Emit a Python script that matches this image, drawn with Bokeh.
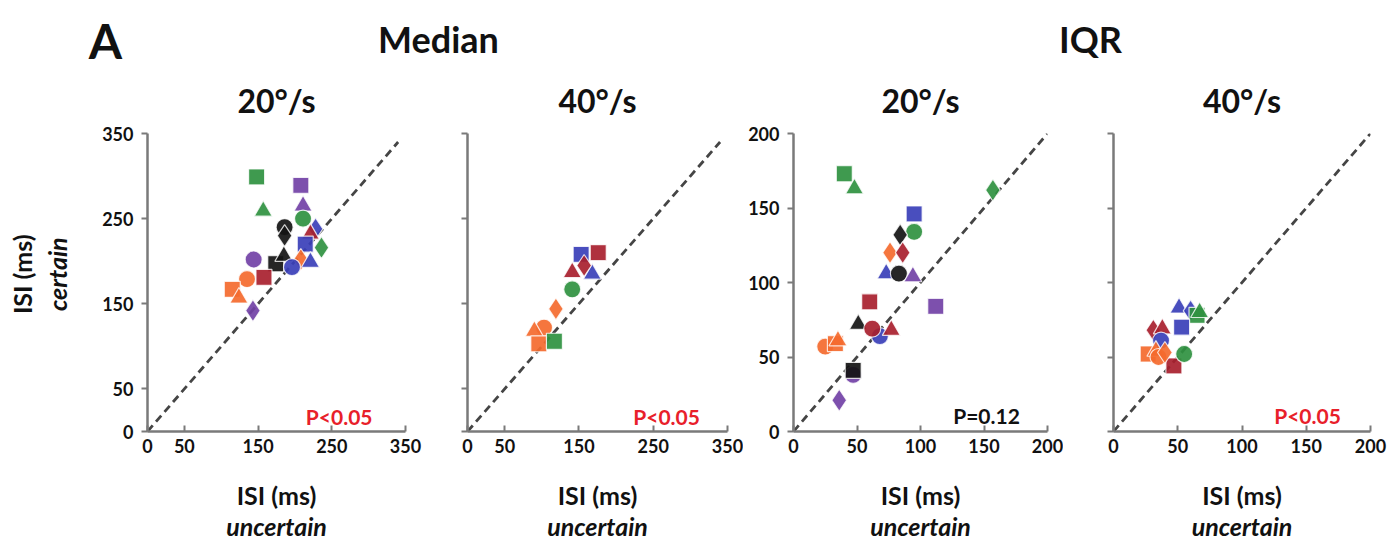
import numpy as np
from bokeh.plotting import figure
from bokeh.models import ColumnDataSource, Range1d, FixedTicker, Label
from bokeh.layouts import row, column
from bokeh.embed import file_html
from bokeh.resources import INLINE
from bokeh.core.properties import value

# ---------------- data ----------------
median_ticks = [0, 50, 150, 250, 350]
iqr_ticks = [0, 50, 100, 150, 200]
median_diag = [0, 340]
iqr_diag = [0, 200]

# Median, 20 deg/s
med20_x = [148, 208, 157, 211, 211, 186, 186, 228, 221, 214, 236, 144, 174, 185, 208, 221, 196, 135, 158, 115, 124, 143]
med20_y = [299, 289, 259, 265, 250, 240, 230, 238, 232, 220, 216, 202, 197, 206, 202, 199, 193, 179, 181, 167, 157, 142]
med20_c = ["green", "purple", "green", "purple", "green", "black", "black", "blue", "darkred", "blue", "green", "purple",
           "black", "black", "orange", "blue", "blue", "orange", "darkred", "orange", "orange", "purple"]
med20_m = ["square", "square", "triangle", "triangle", "circle", "circle", "diamond", "diamond", "triangle", "square", "diamond", "circle",
           "square", "triangle", "diamond", "triangle", "circle", "circle", "square", "square", "triangle", "diamond"]

# Median, 40 deg/s
med40_x = [153, 176, 168, 141, 157, 141, 119, 103, 90, 96, 117]
med40_y = [208, 210, 185, 187, 195, 167, 144, 122, 118, 103, 106]
med40_c = ["blue", "darkred", "blue", "darkred", "darkred", "green", "orange", "orange", "orange", "orange", "green"]
med40_m = ["square", "square", "triangle", "triangle", "diamond", "circle", "diamond", "circle", "triangle", "square", "square"]

# IQR, 20 deg/s
iqr20_x = [40, 48, 157, 95, 95, 84, 76, 86, 73, 83, 94, 112, 60, 51, 68, 62, 77, 25, 33, 35, 47, 47, 36]
iqr20_y = [173, 163, 162, 146, 134, 132, 120, 120, 106, 106, 104, 84, 87, 72, 64, 69, 68, 57, 59, 61, 38, 41, 21]
iqr20_c = ["green", "green", "green", "blue", "green", "black", "orange", "darkred", "blue", "black", "purple", "purple",
           "darkred", "black", "blue", "darkred", "darkred", "orange", "orange", "orange", "purple", "black", "purple"]
iqr20_m = ["square", "triangle", "diamond", "square", "circle", "diamond", "diamond", "diamond", "triangle", "circle", "triangle", "square",
           "square", "triangle", "circle", "circle", "triangle", "circle", "square", "triangle", "circle", "square", "diamond"]

# IQR, 40 deg/s
iqr40_x = [51, 60, 65, 67, 53, 31, 38, 37, 47, 27, 33, 35, 40, 55]
iqr40_y = [83, 81, 78, 80, 70, 68, 69, 61, 44, 52, 54, 50, 53, 52]
iqr40_c = ["blue", "blue", "green", "green", "blue", "darkred", "darkred", "blue", "darkred", "orange", "orange", "orange", "orange", "green"]
iqr40_m = ["triangle", "diamond", "square", "triangle", "square", "diamond", "triangle", "circle", "square", "square", "triangle", "circle", "diamond", "circle"]

panel_titles = ["20°/s", "40°/s", "20°/s", "40°/s"]
group_titles = ["Median", "IQR"]
p_texts = ["P<0.05", "P<0.05", "P=0.12", "P<0.05"]

# ---------------- style ----------------
FONT = "Lato"
COLORS = {"green": "#2f9140", "purple": "#7241a6", "blue": "#3a3fb8",
          "darkred": "#a8202e", "orange": "#f46a2e", "black": "#141414"}
SIZES = {"square": 16, "circle": 17, "triangle": 18, "diamond": 22}
AX = "#7a7a7a"

TOTAL_W = 1391
HEADER_H = 120
TOP, FRAME_H, BOTTOM = 13, 298, 32
ROW_H = TOP + FRAME_H + BOTTOM
FOOTER_H = 540 - HEADER_H - ROW_H
LEFT_W = 88

# (left border, frame width, right border)
geoms = [(59, 258, 23), (39, 260, 16), (50, 254, 16), (50, 257, 21)]


def make_panel(xs, ys, cs, ms, rng, ticks, geom, ylabels, diag, ptext, pcolor, ppos):
    left, fw, right = geom
    p = figure(frame_width=fw, frame_height=FRAME_H,
               x_range=Range1d(*rng), y_range=Range1d(*rng),
               min_border_left=left, min_border_right=right,
               min_border_top=TOP, min_border_bottom=BOTTOM,
               output_backend="svg", toolbar_location=None,
               background_fill_color="white", border_fill_color="white")
    p.grid.visible = False
    p.outline_line_color = None
    p.line(diag, diag, line_dash="8 5", line_width=2.8, line_color="#454545")
    src = ColumnDataSource(dict(
        x=xs, y=ys, marker=ms,
        color=[COLORS[c] for c in cs],
        size=[SIZES[m] for m in ms]))
    p.scatter("x", "y", source=src, marker="marker", size="size",
              fill_color="color", fill_alpha=0.92,
              line_color="white", line_width=1.2, line_alpha=0.8)
    for ax in (p.xaxis[0], p.yaxis[0]):
        ax.ticker = FixedTicker(ticks=ticks)
        ax.axis_line_color = AX
        ax.axis_line_width = 2.5
        ax.major_tick_line_color = AX
        ax.major_tick_line_width = 2
        ax.minor_tick_line_color = None
        ax.major_label_text_font = FONT
        ax.major_label_text_font_size = "18px"
        ax.major_label_text_font_style = "bold"
        ax.major_label_text_color = "#111111"
    p.xaxis.major_tick_in = 6
    p.xaxis.major_tick_out = 0
    p.xaxis.major_label_standoff = 7
    p.yaxis.major_tick_in = 0
    p.yaxis.major_tick_out = 6
    p.yaxis.major_label_standoff = 8
    if not ylabels:
        p.yaxis.major_label_overrides = {t: "" for t in ticks}
    p.add_layout(Label(x=ppos[0], y=ppos[1], text=ptext, text_color=pcolor,
                       text_font=FONT, text_font_size="21px", text_font_style="bold",
                       text_align="center", text_baseline="middle"))
    return p


p1 = make_panel(med20_x, med20_y, med20_c, med20_m, (0, 350), median_ticks, geoms[0], True,
                median_diag, p_texts[0], "#e8202a", (260, 18))
p2 = make_panel(med40_x, med40_y, med40_c, med40_m, (0, 350), median_ticks, geoms[1], False,
                median_diag, p_texts[1], "#e8202a", (268, 18))
p3 = make_panel(iqr20_x, iqr20_y, iqr20_c, iqr20_m, (0, 200), iqr_ticks, geoms[2], True,
                iqr_diag, p_texts[2], "#111111", (152, 11))
p4 = make_panel(iqr40_x, iqr40_y, iqr40_c, iqr40_m, (0, 200), iqr_ticks, geoms[3], False,
                iqr_diag, p_texts[3], "#e8202a", (151, 11))


def blank(w, h):
    f = figure(width=w, height=h, x_range=Range1d(0, w), y_range=Range1d(h, 0),
               x_axis_location=None, y_axis_location=None, min_border=0,
               output_backend="svg", toolbar_location=None,
               background_fill_color="white", border_fill_color="white")
    f.grid.visible = False
    f.outline_line_color = None
    return f


# frame centres in layout x
centres = []
x0 = LEFT_W
for (l, fw, r) in geoms:
    centres.append(x0 + l + fw / 2)
    x0 += l + fw + r

header = blank(TOTAL_W, HEADER_H)
header.text(x=[105], y=[40], text=["A"], text_font=value(FONT), text_font_size=value("48px"),
            text_font_style="bold", text_align="center", text_baseline="middle", text_color="#111111")
header.text(x=[438, 1090], y=[38, 38],
            text=group_titles, text_font=value(FONT), text_font_size=value("36px"),
            text_font_style="bold", text_align="center", text_baseline="middle", text_color="#111111")
header.text(x=centres, y=[100] * 4, text=panel_titles, text_font=value(FONT), text_font_size=value("32px"),
            text_font_style="bold", text_align="center", text_baseline="middle", text_color="#111111")

leftf = blank(LEFT_W, ROW_H)
leftf.text(x=[21], y=[TOP + FRAME_H / 2], text=["ISI (ms)"], angle=np.pi / 2, text_font=value(FONT),
           text_font_size=value("25px"), text_font_style="bold", text_align="center",
           text_baseline="middle", text_color="#111111")
leftf.text(x=[56], y=[TOP + FRAME_H / 2], text=["certain"], angle=np.pi / 2, text_font=value(FONT),
           text_font_size=value("25px"), text_font_style="bold italic", text_align="center",
           text_baseline="middle", text_color="#111111")

footer = blank(TOTAL_W, FOOTER_H)
footer.text(x=centres, y=[31] * 4, text=["ISI (ms)"] * 4, text_font=value(FONT),
            text_font_size=value("25px"), text_font_style="bold", text_align="center",
            text_baseline="middle", text_color="#111111")
footer.text(x=centres, y=[62] * 4, text=["uncertain"] * 4, text_font=value(FONT),
            text_font_size=value("25px"), text_font_style="bold italic", text_align="center",
            text_baseline="middle", text_color="#111111")

layout = column(header, row(leftf, p1, p2, p3, p4), footer)
open("out.html", "w").write(file_html(layout, INLINE))
